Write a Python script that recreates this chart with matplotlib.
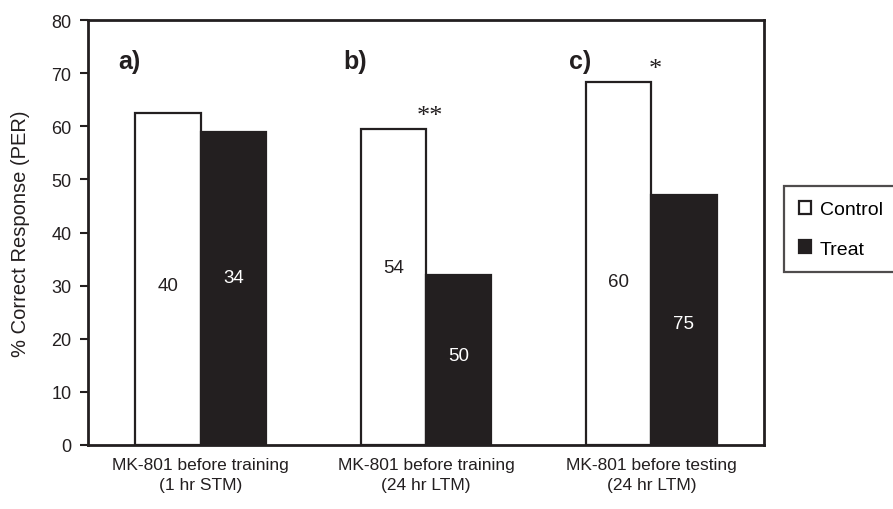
import matplotlib.pyplot as plt
import numpy as np

plt.rcParams["font.family"] = ["Liberation Sans", "DejaVu Sans"]

# Percent correct responses (PER) for each experiment
groups = ["MK-801 before training\n(1 hr STM)",
          "MK-801 before training\n(24 hr LTM)",
          "MK-801 before testing\n(24 hr LTM)"]
panels = ["a)", "b)", "c)"]
control = [62.6, 59.5, 68.4]
treat = [59.0, 32.0, 47.0]
# number of bees per bar
n_control = [40, 54, 60]
n_treat = [34, 50, 75]
n_control_y = [30, 33.5, 30.7]
n_treat_y = [31.5, 16.8, 22.8]
stars = ["", "**", "*"]

ink = "#231f20"

fig = plt.figure(figsize=(8.93, 5.1), dpi=100)
ax = fig.add_axes([0.0985, 0.1255, 0.757, 0.833])

x = np.arange(len(groups))
w = 0.29
ax.bar(x - w / 2, control, w, color="white", edgecolor=ink, linewidth=1.6, label="Control")
ax.bar(x + w / 2, treat, w, color=ink, edgecolor=ink, linewidth=1.6, label="Treat")

for i in range(len(groups)):
    ax.text(x[i] - w / 2, n_control_y[i], str(n_control[i]), ha="center", va="center",
            fontsize=13.5, color=ink)
    ax.text(x[i] + w / 2, n_treat_y[i], str(n_treat[i]), ha="center", va="center",
            fontsize=13.5, color="white")
    ax.text(x[i] - 0.365, 72.3, panels[i], ha="left", va="center", fontsize=18,
            fontweight="bold", color=ink)
    if stars[i]:
        ax.text(x[i] + 0.018, control[i] + 2.4, stars[i], ha="center", va="center",
                fontsize=19, family="Liberation Serif", color=ink)

ax.set_xlim(-0.5, 2.5)
ax.set_ylim(0, 80)
ax.set_yticks(range(0, 81, 10))
ax.set_xticks(x)
ax.set_xticklabels(groups, fontsize=12.5, color=ink, linespacing=1.35)
ax.tick_params(axis="x", length=0, pad=9)
ax.tick_params(axis="y", direction="out", length=6, width=1.5, labelsize=13,
               colors=ink, pad=6)
for s in ax.spines.values():
    s.set_linewidth(2)
    s.set_color(ink)
ax.set_ylabel("% Correct Response (PER)", fontsize=14.5, color=ink, labelpad=15)

leg = fig.legend(loc="upper left", bbox_to_anchor=(0.878, 0.633), frameon=True,
                 fontsize=14, handlelength=0.65, handleheight=0.65, handletextpad=0.45,
                 labelspacing=1.15, borderpad=0.75, borderaxespad=0, fancybox=False)
leg.get_frame().set_edgecolor(ink)
leg.get_frame().set_linewidth(1.6)

fig.savefig("out.png", dpi=100)
